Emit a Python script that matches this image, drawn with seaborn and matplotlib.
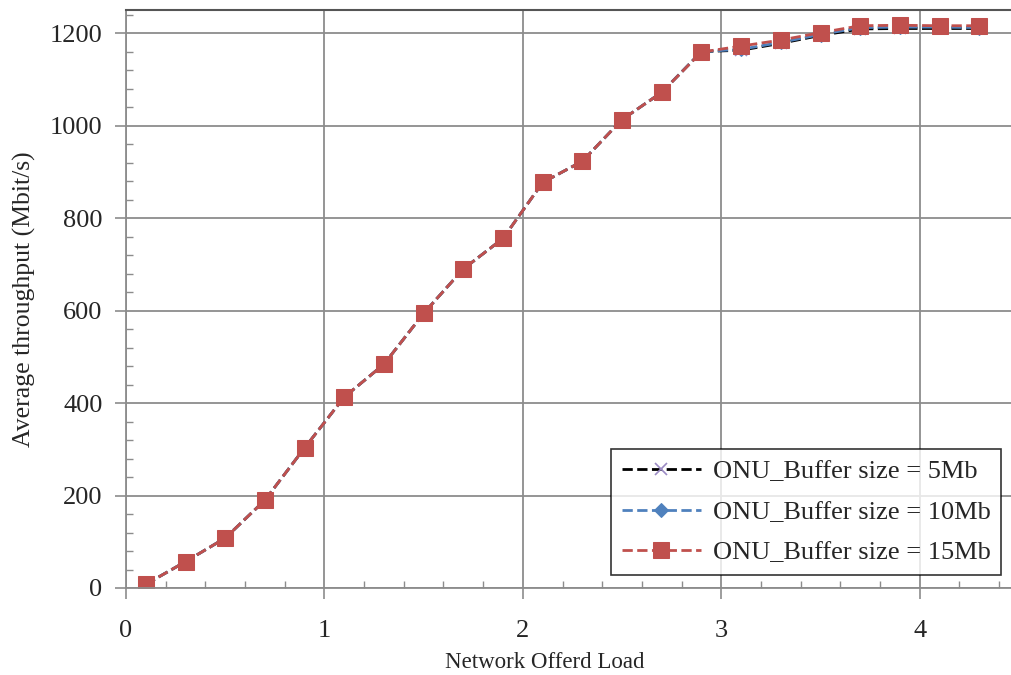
import numpy as np
import pandas as pd
import seaborn as sb
from matplotlib import pyplot as plt
from matplotlib.ticker import MultipleLocator

# Dados
carga = [0.1, 0.3, 0.5, 0.7, 0.9, 1.1, 1.3, 1.5, 1.7, 1.9, 2.1,
         2.3, 2.5, 2.7, 2.9, 3.1, 3.3, 3.5, 3.7, 3.9, 4.1, 4.3]
base = [8, 57, 108, 190, 303, 413, 484, 594, 690, 756, 877,
        923, 1013, 1072]
buf_5mb = base + [1160, 1163, 1178, 1195, 1209, 1210, 1210, 1210]
buf_10mb = base + [1160, 1165, 1180, 1197, 1212, 1213, 1213, 1212]
buf_15mb = base + [1159, 1172, 1185, 1201, 1216, 1217, 1216, 1216]

rotulos = ['ONU_Buffer size = 5Mb', 'ONU_Buffer size = 10Mb', 'ONU_Buffer size = 15Mb']

sb.set_style('white')
plt.rcParams['font.family'] = ['Liberation Serif', 'DejaVu Serif']

fig = plt.figure(figsize=(10.11, 6.75), dpi=100)
ax = fig.add_axes([126 / 1011, 87 / 675, 885 / 1011, 578 / 675])

estilos = [
    dict(color='black', marker='x', markersize=8, markeredgecolor='#9B8BC4',
         markerfacecolor='#9B8BC4', markeredgewidth=1.2),
    dict(color='#4F81BD', marker='D', markersize=7, markeredgecolor='#4F81BD',
         markerfacecolor='#4F81BD'),
    dict(color='#C0504D', marker='s', markersize=11, markeredgecolor='#C0504D',
         markerfacecolor='#C0504D'),
]
for serie, rot, est in zip([buf_5mb, buf_10mb, buf_15mb], rotulos, estilos):
    sb.lineplot(x=carga, y=serie, ax=ax, label=rot, linestyle='--',
                linewidth=2, dashes=False, **est)

ax.set_xlim(0, 4.46)
ax.set_ylim(0, 1250)
ax.xaxis.set_major_locator(MultipleLocator(1))
ax.xaxis.set_minor_locator(MultipleLocator(0.2))
ax.yaxis.set_major_locator(MultipleLocator(200))
ax.yaxis.set_minor_locator(MultipleLocator(40))
ax.grid(True, which='major', color='#8C8C8C', linewidth=1.3)
ax.set_axisbelow(True)

for lado in ['left', 'bottom']:
    ax.spines[lado].set_color('#8C8C8C')
    ax.spines[lado].set_linewidth(1.3)
ax.spines['top'].set_color('#555555')
ax.spines['top'].set_linewidth(1.5)
ax.spines['right'].set_visible(False)

ax.tick_params(which='major', direction='out', length=8, color='#8C8C8C',
               width=1.2, labelsize=19, bottom=True, left=True)
ax.tick_params(which='minor', direction='in', length=5, color='#8C8C8C',
               width=1, bottom=True, left=True)
ax.tick_params(axis='y', pad=9)
ax.tick_params(axis='x', pad=15)

ax.set_xlabel('Network Offerd Load', fontsize=16.5)
ax.xaxis.set_label_coords(0.473, -0.11)
ax.set_ylabel('Average throughput (Mbit/s)', fontsize=18.5, labelpad=10)

leg = ax.legend(loc='lower right', bbox_to_anchor=(0.9887, 0.0225), fontsize=19,
                frameon=True, fancybox=False, edgecolor='black',
                handlelength=3.0, borderpad=0.4, labelspacing=0.65,
                handletextpad=0.45, borderaxespad=0)
leg.get_frame().set_linewidth(1.2)

plt.savefig('out.png', dpi=100)
plt.close()
